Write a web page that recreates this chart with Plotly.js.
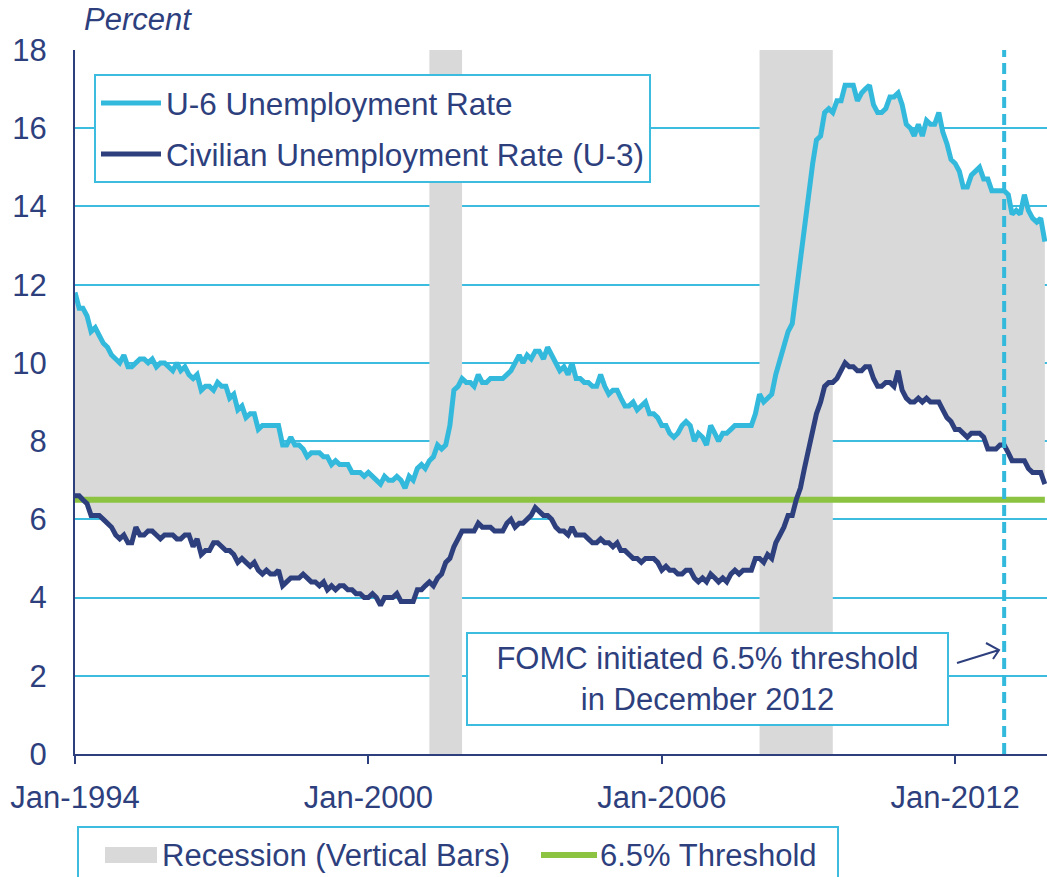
<!DOCTYPE html>
<html>
<head>
<meta charset="utf-8">
<script src="https://cdn.plot.ly/plotly-3.0.1.min.js"></script>
<style>html,body{margin:0;padding:0;background:#fff}#chart{width:1047px;height:877px}</style>
</head>
<body>
<div id="chart"></div>
<script>
// Monthly data, Jan-1994 .. Nov-2013
const firstYear = 1994;
const u3Rate = [
 6.6,6.6,6.5,6.4,6.1,6.1,6.1,6.0,5.9,5.8,5.6,5.5,
 5.6,5.4,5.4,5.8,5.6,5.6,5.7,5.7,5.6,5.5,5.6,5.6,
 5.6,5.5,5.5,5.6,5.6,5.3,5.5,5.1,5.2,5.2,5.4,5.4,
 5.3,5.2,5.2,5.1,4.9,5.0,4.9,4.8,4.9,4.7,4.6,4.7,
 4.6,4.6,4.7,4.3,4.4,4.5,4.5,4.5,4.6,4.5,4.4,4.4,
 4.3,4.4,4.2,4.3,4.2,4.3,4.3,4.2,4.2,4.1,4.1,4.0,
 4.0,4.1,4.0,3.8,4.0,4.0,4.0,4.1,3.9,3.9,3.9,3.9,
 4.2,4.2,4.3,4.4,4.3,4.5,4.6,4.9,5.0,5.3,5.5,5.7,
 5.7,5.7,5.7,5.9,5.8,5.8,5.8,5.7,5.7,5.7,5.9,6.0,
 5.8,5.9,5.9,6.0,6.1,6.3,6.2,6.1,6.1,6.0,5.8,5.7,
 5.7,5.6,5.8,5.6,5.6,5.6,5.5,5.4,5.4,5.5,5.4,5.4,
 5.3,5.4,5.2,5.2,5.1,5.0,5.0,4.9,5.0,5.0,5.0,4.9,
 4.7,4.8,4.7,4.7,4.6,4.6,4.7,4.7,4.5,4.4,4.5,4.4,
 4.6,4.5,4.4,4.5,4.4,4.6,4.7,4.6,4.7,4.7,4.7,5.0,
 5.0,4.9,5.1,5.0,5.4,5.6,5.8,6.1,6.1,6.5,6.8,7.3,
 7.8,8.3,8.7,9.0,9.4,9.5,9.5,9.6,9.8,10.0,9.9,9.9,
 9.8,9.8,9.9,9.9,9.6,9.4,9.4,9.5,9.5,9.4,9.8,9.3,
 9.1,9.0,9.0,9.1,9.0,9.1,9.0,9.0,9.0,8.8,8.6,8.5,
 8.3,8.3,8.2,8.1,8.2,8.2,8.2,8.1,7.8,7.8,7.8,7.9,
 7.9,7.7,7.5,7.5,7.5,7.5,7.3,7.2,7.2,7.2,6.9
];
const u6Rate = [
 11.8,11.4,11.4,11.2,10.8,10.9,10.7,10.5,10.4,10.2,10.1,10.0,
 10.2,9.9,9.9,10.0,10.1,10.1,10.0,10.1,9.9,10.0,10.0,9.9,
 9.8,10.0,9.8,9.9,9.7,9.6,9.7,9.3,9.4,9.4,9.3,9.5,
 9.4,9.4,9.1,9.2,8.8,8.9,8.6,8.7,8.7,8.3,8.4,8.4,
 8.4,8.4,8.4,7.9,7.9,8.1,7.9,7.9,7.8,7.6,7.7,7.7,
 7.7,7.6,7.6,7.4,7.5,7.4,7.4,7.4,7.2,7.2,7.2,7.1,
 7.2,7.1,7.0,6.9,7.1,7.0,7.0,7.1,7.0,6.8,7.1,7.0,
 7.3,7.4,7.3,7.5,7.6,7.9,7.8,7.9,8.4,9.3,9.4,9.6,
 9.5,9.5,9.4,9.7,9.5,9.5,9.6,9.6,9.6,9.6,9.7,9.8,
 10.0,10.2,10.0,10.2,10.1,10.3,10.3,10.1,10.4,10.2,10.0,9.8,
 9.9,9.7,10.0,9.6,9.6,9.5,9.5,9.4,9.4,9.7,9.4,9.2,
 9.3,9.3,9.1,8.9,8.9,9.0,8.8,8.9,9.0,8.7,8.7,8.6,
 8.4,8.4,8.2,8.1,8.2,8.4,8.5,8.4,8.0,8.2,8.1,7.9,
 8.4,8.2,8.0,8.2,8.2,8.3,8.4,8.4,8.4,8.4,8.4,8.7,
 9.2,9.0,9.1,9.2,9.7,10.1,10.5,10.8,11.0,11.8,12.6,13.6,
 14.2,15.1,15.7,15.8,16.4,16.5,16.4,16.7,16.7,17.1,17.1,17.1,
 16.7,16.9,17.0,17.1,16.6,16.4,16.4,16.5,16.8,16.8,16.9,16.6,
 16.1,16.0,15.8,16.1,15.8,16.2,16.1,16.1,16.4,15.9,15.6,15.2,
 15.1,14.9,14.5,14.5,14.8,14.9,15.0,14.7,14.7,14.4,14.4,14.4,
 14.4,14.3,13.8,13.9,13.8,14.3,13.9,13.7,13.6,13.7,13.1
];
const recessionStart = ['2001-04-01', '2008-01-01'];
const recessionEnd   = ['2001-12-01', '2009-07-01'];
const thresholdValue = 6.5;
const fomcDate = '2013-01-01';
const tickValues = ['1994-01-01', '2000-01-01', '2006-01-01', '2012-01-01'];
const tickLabels = ['Jan-1994', 'Jan-2000', 'Jan-2006', 'Jan-2012'];
const seriesNames = ['U-6 Unemployment Rate', 'Civilian Unemployment Rate (U-3)'];
const bottomNames = ['Recession (Vertical Bars)', '6.5% Threshold'];
const yRange = [0, 18];

// month categories
const months = u3Rate.map((_, i) => {
  const y = firstYear + Math.floor(i / 12);
  const m = (i % 12) + 1;
  return y + '-' + String(m).padStart(2, '0') + '-01';
});

const NAVY = '#2e3f7e';
const CYAN = '#33b9dc';
const GRID = '#3cbde0';
const GRAY = '#d9d9d9';
const GREEN = '#8cc441';
const FONT = 'Liberation Sans, Arial, sans-serif';

// recession polygons
const recX = [], recY = [];
recessionStart.forEach((s, k) => {
  const e = recessionEnd[k];
  recX.push(s, s, e, e, null);
  recY.push(yRange[0], yRange[1], yRange[1], yRange[0], null);
});

const traces = [
  {x: recX, y: recY, type: 'scatter', mode: 'lines', fill: 'toself', fillcolor: GRAY,
   line: {width: 0, color: GRAY}, name: bottomNames[0], showlegend: false, hoverinfo: 'skip'},
  {x: months, y: u3Rate, type: 'scatter', mode: 'lines', line: {width: 0, color: GRAY},
   showlegend: false, hoverinfo: 'skip'},
  {x: months, y: u6Rate, type: 'scatter', mode: 'lines', fill: 'tonexty', fillcolor: GRAY,
   line: {width: 0, color: GRAY}, showlegend: false, hoverinfo: 'skip'},
  {x: [months[0], months[months.length - 1]], y: [thresholdValue, thresholdValue],
   type: 'scatter', mode: 'lines', line: {width: 6, color: GREEN},
   name: bottomNames[1], showlegend: false},
  {x: months, y: u3Rate, type: 'scatter', mode: 'lines', line: {width: 5, color: NAVY},
   name: seriesNames[1], legend: 'legend', legendrank: 2, legendgroup: 'b'},
  {x: months, y: u6Rate, type: 'scatter', mode: 'lines', line: {width: 5, color: CYAN},
   name: seriesNames[0], legend: 'legend', legendrank: 1, legendgroup: 'a'}
];

const px = v => (v - 75) / 972;
const py = v => (754 - v) / 704;

const layout = {
  width: 1047, height: 877,
  margin: {l: 75, r: 0, t: 50, b: 123, pad: 0},
  paper_bgcolor: '#fff', plot_bgcolor: '#fff',
  font: {family: FONT, size: 31, color: NAVY},
  showlegend: true,
  xaxis: {
    type: 'date', range: ['1994-01-01', '2013-11-17'],
    tickvals: tickValues, ticktext: tickLabels,
    ticks: 'outside', ticklen: 8, tickwidth: 2, tickcolor: NAVY,
    showline: true, linecolor: NAVY, linewidth: 2, showgrid: false, zeroline: false,
    ticklabelstandoff: 7,
    tickfont: {size: 31, color: NAVY, family: FONT}
  },
  yaxis: {
    range: yRange, dtick: 2, tick0: 0,
    showgrid: true, gridcolor: GRID, gridwidth: 2,
    showline: true, linecolor: NAVY, linewidth: 2, zeroline: false,
    ticks: '', ticklabelstandoff: 20,
    tickfont: {size: 31, color: NAVY, family: FONT}
  },
  legend: {
    x: px(94), y: py(74), xanchor: 'left', yanchor: 'top',
    bgcolor: '#fff', bordercolor: GRID, borderwidth: 2,
    font: {size: 31.5, color: NAVY, family: FONT}, itemwidth: 60,
    tracegroupgap: 7, traceorder: 'grouped'
  },
  shapes: [
    {type: 'line', xref: 'x', yref: 'paper', x0: fomcDate, x1: fomcDate, y0: 0, y1: 1,
     line: {color: CYAN, width: 4, dash: '11px,6px'}, layer: 'above'},
    {type: 'path', xref: 'paper', yref: 'paper', layer: 'above',
     path: 'M' + px(957) + ',' + py(663) + ' L' + px(999) + ',' + py(650) +
           ' M' + px(986) + ',' + py(643) + ' L' + px(999) + ',' + py(650) + ' L' + px(993) + ',' + py(659),
     line: {color: NAVY, width: 2}},
    // bottom legend box and symbols
    {type: 'rect', xref: 'paper', yref: 'paper', layer: 'above',
     x0: px(78), x1: px(838), y0: py(827), y1: py(905),
     line: {color: GRID, width: 2}, fillcolor: '#fff'},
    {type: 'rect', xref: 'paper', yref: 'paper', layer: 'above',
     x0: px(105), x1: px(157), y0: py(847), y1: py(863),
     line: {width: 0}, fillcolor: GRAY},
    {type: 'line', xref: 'paper', yref: 'paper', layer: 'above',
     x0: px(541), x1: px(597), y0: py(855), y1: py(855),
     line: {color: GREEN, width: 6}}
  ],
  annotations: [
    {text: '<i>Percent</i>', xref: 'paper', yref: 'paper', x: px(82), y: py(20),
     xanchor: 'left', yanchor: 'middle', showarrow: false,
     font: {size: 31, color: NAVY, family: FONT}},
    {text: 'FOMC initiated 6.5% threshold<br>in December 2012', xref: 'paper', yref: 'paper',
     x: px(707.5), y: py(679), xanchor: 'center', yanchor: 'middle', showarrow: false,
     bgcolor: '#fff', bordercolor: GRID, borderwidth: 2, borderpad: 0,
     width: 479, height: 90, align: 'center',
     font: {size: 31, color: NAVY, family: FONT}},
    {text: bottomNames[0], xref: 'paper', yref: 'paper', x: px(160), y: py(855),
     xanchor: 'left', yanchor: 'middle', showarrow: false,
     font: {size: 31, color: NAVY, family: FONT}},
    {text: bottomNames[1], xref: 'paper', yref: 'paper', x: px(598), y: py(855),
     xanchor: 'left', yanchor: 'middle', showarrow: false,
     font: {size: 31, color: NAVY, family: FONT}}
  ]
};

Plotly.newPlot('chart', traces, layout, {displayModeBar: false, staticPlot: true});
</script>
</body>
</html>
